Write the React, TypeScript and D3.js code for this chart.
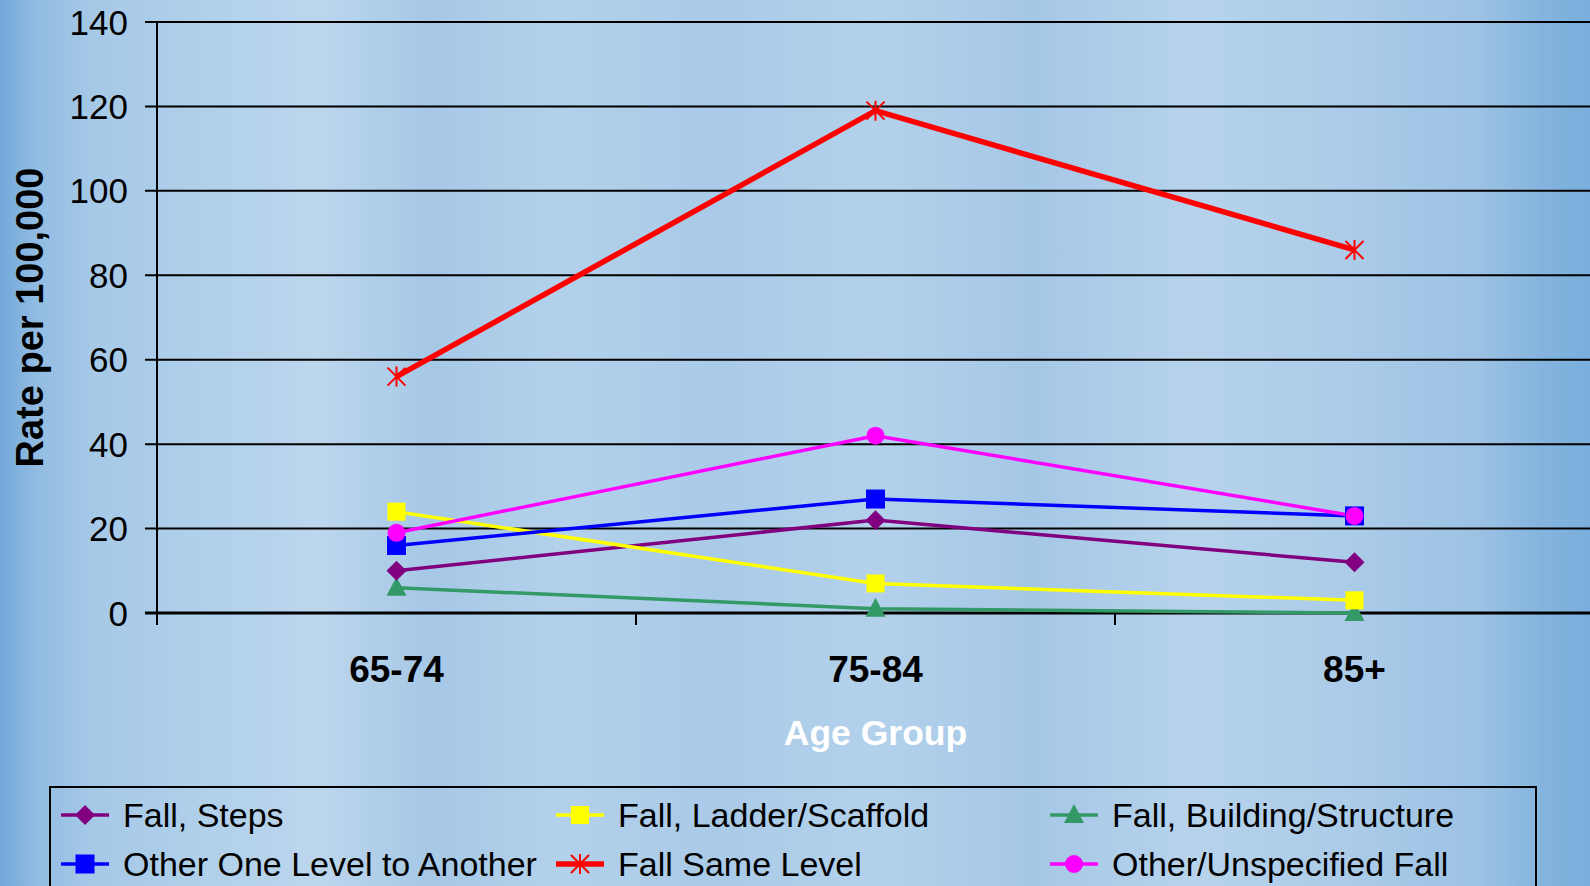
import { useEffect, useRef } from 'react';
import * as d3 from 'd3';

const ageGroups = ['65-74', '75-84', '85+'];
const yTicks = [0, 20, 40, 60, 80, 100, 120, 140];

const seriesNames = [
  'Fall, Steps',
  'Fall, Ladder/Scaffold',
  'Fall, Building/Structure',
  'Other One Level to Another',
  'Fall Same Level',
  'Other/Unspecified Fall',
];
const fallSteps = [10, 22, 12];
const fallLadder = [24, 7, 3];
const fallBuilding = [6, 1, 0];
const otherOneLevel = [16, 27, 23];
const fallSameLevel = [56, 119, 86];
const otherUnspecified = [19, 42, 23];

const seriesColors = ['#800080', '#FFFF00', '#339966', '#0000FF', '#FF0000', '#FF00FF'];
const seriesMarkers = ['diamond', 'square', 'triangle', 'square', 'star', 'circle'];

const W = 1590;
const H = 886;

export default function App() {
  const svgRef = useRef<SVGSVGElement>(null);

  useEffect(() => {
    if (!svgRef.current) return;
    const svg = d3.select(svgRef.current);
    svg.selectAll('*').remove();

    const font = 'Arial, "Liberation Sans", sans-serif';
    const margin = { top: 22, left: 157 };
    const innerW = 1437; // plot runs a little past the right edge
    const innerH = 591;

    // background
    const defs = svg.append('defs');
    const bg = defs.append('linearGradient').attr('id', 'bg').attr('x1', '0%').attr('x2', '100%');
    const bgStops: [number, string][] = [
      [0, '#72a8da'], [0.025, '#94bde3'], [0.06, '#a6c9e7'], [0.12, '#afcfea'], [0.2, '#bcd6ed'],
      [0.27, '#a6c8e6'], [0.35, '#b3d1eb'], [0.45, '#a9cae8'], [0.55, '#b3d1eb'],
      [0.65, '#a5c7e6'], [0.75, '#b7d3ec'], [0.85, '#abcbe8'], [0.93, '#9cc2e4'], [0.97, '#84b4de'], [1, '#7aaedc'],
    ];
    bgStops.forEach(([o, c]) => bg.append('stop').attr('offset', o).attr('stop-color', c));
    svg.append('rect').attr('width', W).attr('height', H).attr('fill', 'url(#bg)');

    const x = d3.scaleBand().domain(ageGroups).range([0, innerW]);
    const y = d3.scaleLinear().domain([0, 140]).range([innerH, 0]);

    const g = svg.append('g').attr('transform', `translate(${margin.left},${margin.top})`);

    // grid lines + y ticks
    yTicks.forEach(t => {
      g.append('line')
        .attr('x1', -12).attr('x2', innerW)
        .attr('y1', y(t)).attr('y2', y(t))
        .attr('stroke', '#000').attr('stroke-width', t === 0 ? 3 : 2);
      g.append('text')
        .attr('x', -29).attr('y', y(t))
        .attr('text-anchor', 'end').attr('dominant-baseline', 'central')
        .attr('font-family', font).attr('font-size', 35).attr('fill', '#000')
        .text(t);
    });

    // y axis line
    g.append('line').attr('x1', 0).attr('x2', 0).attr('y1', 0).attr('y2', innerH + 12)
      .attr('stroke', '#000').attr('stroke-width', 2);

    // x ticks between categories
    ageGroups.forEach((a, i) => {
      if (i === 0) return;
      const xx = x(a)!;
      g.append('line').attr('x1', xx).attr('x2', xx).attr('y1', innerH).attr('y2', innerH + 12)
        .attr('stroke', '#000').attr('stroke-width', 2);
    });

    // x labels
    g.selectAll('.xlab')
      .data(ageGroups)
      .enter()
      .append('text')
      .attr('x', d => x(d)! + x.bandwidth() / 2)
      .attr('y', innerH + 69)
      .attr('text-anchor', 'middle')
      .attr('font-family', font).attr('font-size', 37).attr('font-weight', 'bold')
      .text(d => d);

    // axis titles
    svg.append('text')
      .attr('transform', `translate(43,${margin.top + innerH / 2}) rotate(-90)`)
      .attr('text-anchor', 'middle')
      .attr('font-family', font).attr('font-size', 38).attr('font-weight', 'bold')
      .text('Rate per 100,000');

    svg.append('text')
      .attr('x', margin.left + x(ageGroups[1])! + x.bandwidth() / 2).attr('y', 745)
      .attr('text-anchor', 'middle')
      .attr('font-family', font).attr('font-size', 35.5).attr('font-weight', 'bold')
      .attr('fill', '#fff')
      .text('Age Group');

    const drawMarker = (sel: any, type: string, color: string, cx: number, cy: number) => {
      if (type === 'diamond') {
        sel.append('path')
          .attr('d', `M${cx},${cy - 10}L${cx + 10},${cy}L${cx},${cy + 10}L${cx - 10},${cy}Z`)
          .attr('fill', color);
      } else if (type === 'square') {
        const s = color === '#0000FF' ? 19 : 18;
        sel.append('rect').attr('x', cx - s / 2).attr('y', cy - s / 2)
          .attr('width', s).attr('height', s).attr('fill', color);
      } else if (type === 'triangle') {
        sel.append('path')
          .attr('d', `M${cx},${cy - 11}L${cx + 10},${cy + 8}L${cx - 10},${cy + 8}Z`)
          .attr('fill', color);
      } else if (type === 'circle') {
        sel.append('circle').attr('cx', cx).attr('cy', cy).attr('r', 9).attr('fill', color);
      } else if (type === 'star') {
        const r = 9;
        sel.append('path')
          .attr('d', `M${cx - r},${cy - r}L${cx + r},${cy + r}M${cx - r},${cy + r}L${cx + r},${cy - r}M${cx},${cy - r - 1}L${cx},${cy + r + 1}`)
          .attr('stroke', color).attr('stroke-width', 2).attr('fill', 'none');
      }
    };

    const allSeries = [fallSteps, fallLadder, fallBuilding, otherOneLevel, fallSameLevel, otherUnspecified];
    const drawOrder = [2, 0, 1, 3, 5, 4];

    const line = d3.line<number>()
      .x((_, i) => x(ageGroups[i])! + x.bandwidth() / 2)
      .y(d => y(d));

    drawOrder.forEach(si => {
      const vals = allSeries[si];
      g.append('path')
        .datum(vals)
        .attr('fill', 'none')
        .attr('stroke', seriesColors[si])
        .attr('stroke-width', si === 4 ? 5.5 : 3.5)
        .attr('d', line);
    });
    drawOrder.forEach(si => {
      allSeries[si].forEach((v, i) => {
        drawMarker(g, seriesMarkers[si], seriesColors[si], x(ageGroups[i])! + x.bandwidth() / 2, y(v));
      });
    });

    // legend
    const lg = svg.append('g');
    lg.append('rect')
      .attr('x', 50).attr('y', 787).attr('width', 1486).attr('height', 130)
      .attr('fill', 'none').attr('stroke', '#000').attr('stroke-width', 2);
    const colX = [61, 556, 1050];
    const rowY = [815, 864];
    seriesNames.forEach((name, i) => {
      const cx = colX[i % 3];
      const cy = rowY[Math.floor(i / 3)];
      lg.append('line').attr('x1', cx).attr('x2', cx + 48).attr('y1', cy).attr('y2', cy)
        .attr('stroke', seriesColors[i]).attr('stroke-width', i === 4 ? 5.5 : 3.5);
      drawMarker(lg, seriesMarkers[i], seriesColors[i], cx + 24, cy);
      lg.append('text')
        .attr('x', cx + 62).attr('y', cy)
        .attr('dominant-baseline', 'central')
        .attr('font-family', font).attr('font-size', 34).attr('fill', '#000')
        .text(name);
    });
  }, []);

  return (
    <div style={{ position: 'absolute', left: 0, top: 0, width: W, height: H, overflow: 'hidden' }}>
      <svg ref={svgRef} width={W} height={H} style={{ display: 'block' }} />
    </div>
  );
}
